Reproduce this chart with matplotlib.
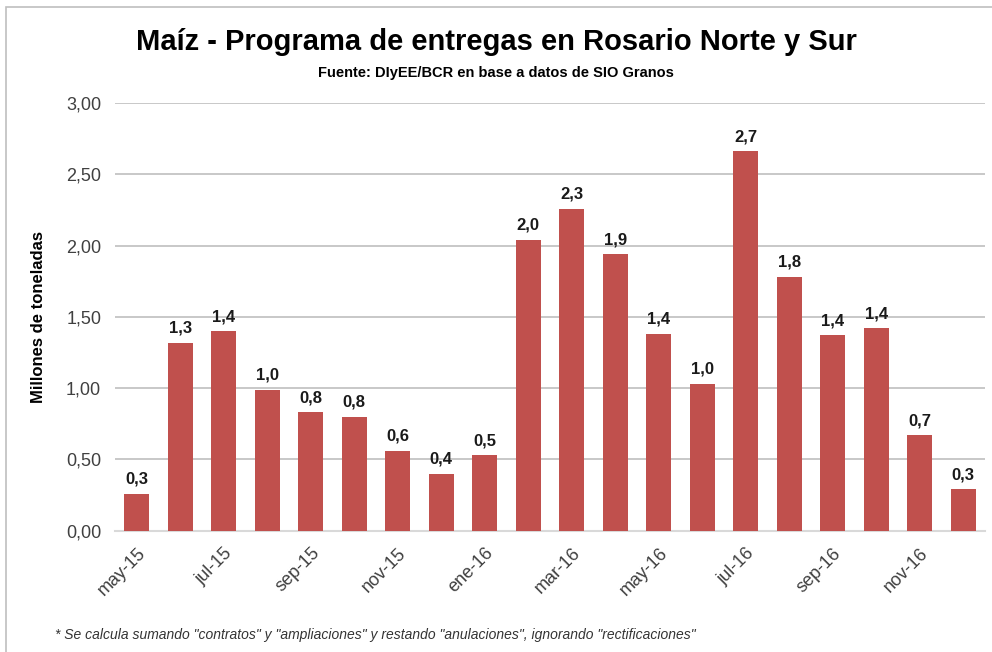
import matplotlib.pyplot as plt
from matplotlib.patches import Rectangle

months = ["may-15", "jun-15", "jul-15", "ago-15", "sep-15", "oct-15", "nov-15", "dic-15",
          "ene-16", "feb-16", "mar-16", "abr-16", "may-16", "jun-16", "jul-16", "ago-16",
          "sep-16", "oct-16", "nov-16", "dic-16"]
values = [0.26, 1.32, 1.40, 0.99, 0.83, 0.80, 0.56, 0.40, 0.53, 2.04,
          2.26, 1.94, 1.38, 1.03, 2.66, 1.78, 1.37, 1.42, 0.67, 0.29]
yticks = [0, 0.5, 1.0, 1.5, 2.0, 2.5, 3.0]

plt.rcParams["font.family"] = ["Liberation Sans", "DejaVu Sans"]

fig = plt.figure(figsize=(9.92, 6.52), dpi=100)
ax = fig.add_axes([0.116, 0.186, 0.877, 0.656])

x = list(range(len(values)))
ax.bar(x, values, width=0.57, color="#C0504D", zorder=3)
for xi, v in zip(x, values):
    ax.text(xi, v + 0.05, f"{v:.1f}".replace(".", ","), ha="center", va="bottom",
            fontsize=12, fontweight="bold", color="#1a1a1a")

ax.set_xlim(-0.5, len(values) - 0.5)
ax.set_ylim(0, 3.0)
ax.set_yticks(yticks)
ax.set_yticklabels([f"{t:.2f}".replace(".", ",") for t in yticks], fontsize=13, color="#404040")
ax.set_xticks(x[::2])
ax.set_xticklabels(months[::2], rotation=45, ha="right", rotation_mode="anchor",
                   fontsize=13, color="#404040")
ax.tick_params(length=0, pad=10)
ax.tick_params(axis="x", pad=10)
ax.grid(axis="y", color="#BFBFBF", linewidth=1.2, zorder=0)
for s in ["top", "right", "left"]:
    ax.spines[s].set_visible(False)
ax.spines["bottom"].set_color("#D9D9D9")
ax.spines["bottom"].set_linewidth(1.5)
ax.set_ylabel("Millones de toneladas", fontsize=12, fontweight="bold", labelpad=14)

fig.text(0.5, 0.935, "Maíz - Programa de entregas en Rosario Norte y Sur",
         ha="center", va="center", fontsize=21, fontweight="bold")
fig.text(0.5, 0.888, "Fuente: DIyEE/BCR en base a datos de SIO Granos",
         ha="center", va="center", fontsize=10.5, fontweight="bold")
fig.text(0.055, 0.026, '* Se calcula sumando "contratos" y "ampliaciones" y restando "anulaciones", ignorando "rectificaciones"',
         ha="left", va="center", fontsize=10, style="italic", color="#333333")

fig.patches.append(Rectangle((0.006, -0.01), 1.2, 1.0, transform=fig.transFigure,
                             fill=False, edgecolor="#BFBFBF", linewidth=1.2))

fig.savefig("out.png", dpi=100)
